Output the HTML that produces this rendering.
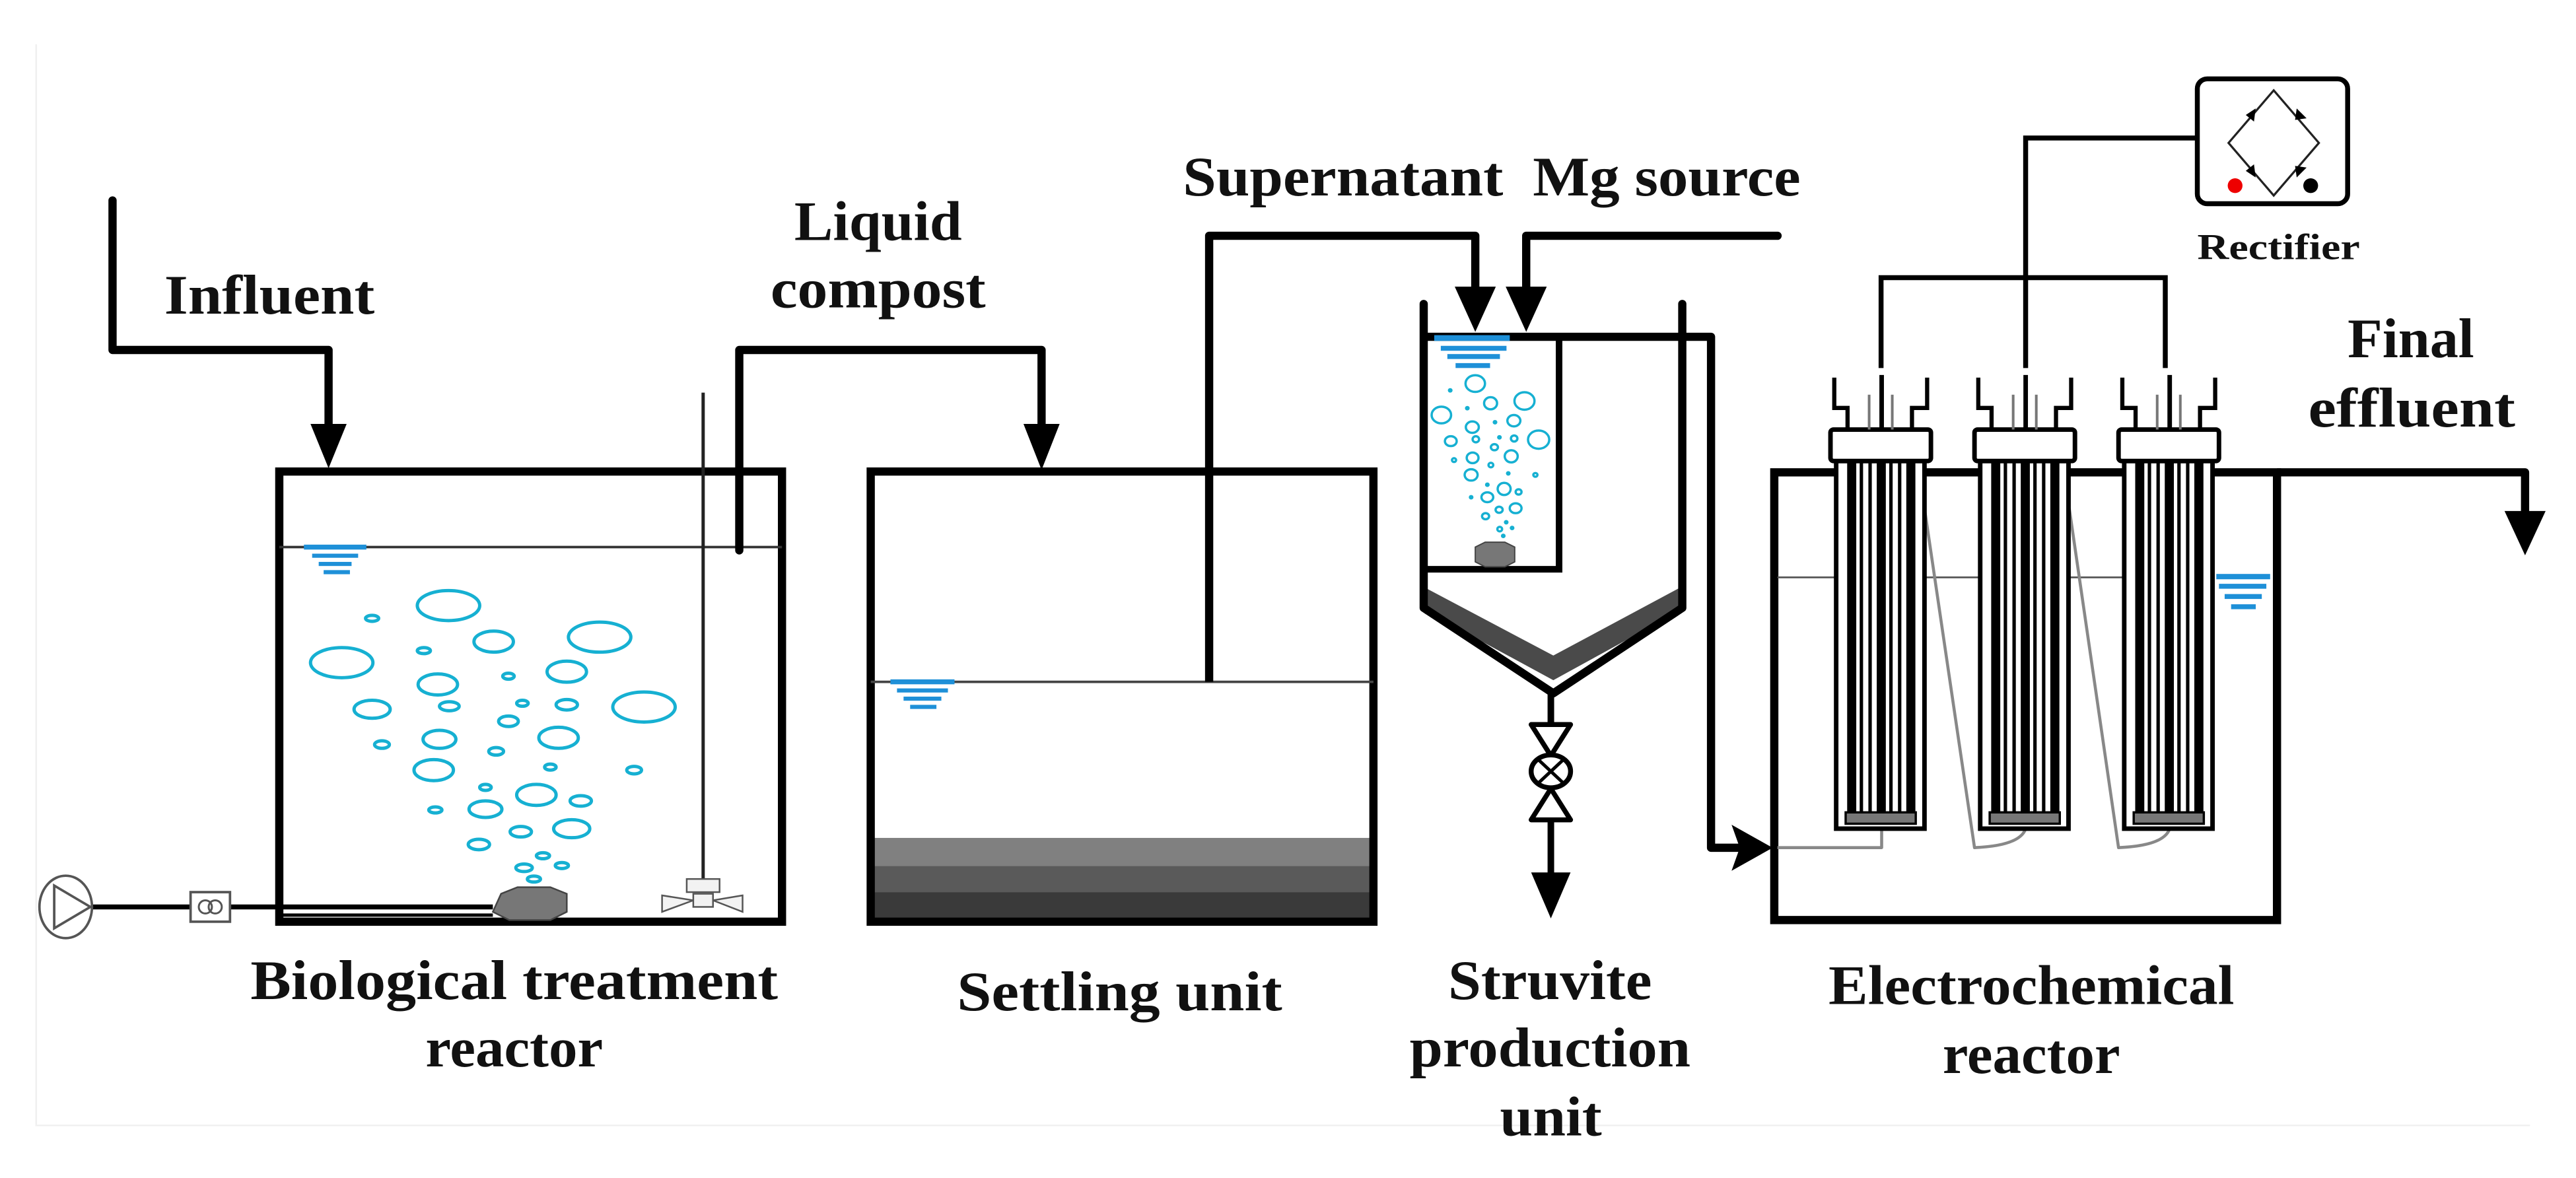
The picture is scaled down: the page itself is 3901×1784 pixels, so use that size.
<!DOCTYPE html>
<html><head><meta charset="utf-8"><style>html,body{margin:0;padding:0;background:#fff}svg{display:block}text{font-family:"Liberation Serif",serif;font-weight:bold;fill:#111}</style></head>
<body>
<svg width="3901" height="1784" viewBox="0 0 1568 717" preserveAspectRatio="none" xmlns="http://www.w3.org/2000/svg">
<rect width="1568" height="717" fill="#fff"/>
<polyline points="22,27 22,685 1540,685" fill="none" stroke="#f0f0f0" stroke-width="1"/>

<polyline points="68.5,122 68.5,213 200,213 200,262" fill="none" stroke="#000" stroke-width="5" stroke-linejoin="round" stroke-linecap="round"/>
<polygon points="189,258 211,258 200,285" fill="#000"/>
<text x="100" y="191" font-size="34" textLength="128" lengthAdjust="spacingAndGlyphs">Influent</text>

<rect x="170" y="287" width="306" height="274" fill="none" stroke="#000" stroke-width="5"/>
<line x1="170" y1="333" x2="476" y2="333" stroke="#333" stroke-width="1.5"/>
<g fill="#1e90d8">
<rect x="185" y="331.5" width="38" height="3"/><rect x="190" y="337" width="28" height="2.5"/><rect x="194" y="342" width="20" height="2.5"/><rect x="197" y="347" width="16" height="2.5"/>
</g>
<polyline points="450,335 450,213 634,213 634,262" fill="none" stroke="#000" stroke-width="5" stroke-linejoin="round" stroke-linecap="round"/>
<polygon points="623,258 645,258 634,286" fill="#000"/>
<text x="483.5" y="146" font-size="34" textLength="102" lengthAdjust="spacingAndGlyphs">Liquid</text>
<text x="469" y="187" font-size="34" textLength="131" lengthAdjust="spacingAndGlyphs">compost</text>
<line x1="428" y1="239" x2="428" y2="540" stroke="#222" stroke-width="2"/>
<g fill="#f2f2f2" stroke="#555" stroke-width="1">
<rect x="418" y="535" width="20" height="8"/>
<polygon points="403,545 422,548 403,555"/><polygon points="452,545 434,548 452,555"/>
<rect x="422" y="544" width="12" height="8"/>
</g>
<line x1="56" y1="552" x2="300" y2="552" stroke="#000" stroke-width="3"/>
<line x1="170" y1="557" x2="300" y2="557" stroke="#000" stroke-width="2"/>
<ellipse cx="40" cy="552" rx="16" ry="19" fill="#fff" stroke="#555" stroke-width="1.5"/>
<polygon points="33,539 33,565 55,552" fill="none" stroke="#555" stroke-width="1.5"/>
<rect x="116" y="543" width="24" height="18" fill="#fff" stroke="#555" stroke-width="1.5"/>
<circle cx="125" cy="552" r="4" fill="none" stroke="#555" stroke-width="1.2"/><circle cx="131" cy="552" r="4" fill="none" stroke="#555" stroke-width="1.2"/>
<polygon points="305,544 315,540 335,540 345,544 345,555 335,560 310,560 300,555" fill="#777" stroke="#444" stroke-width="1"/>
<g transform="scale(0.5,0.4573)" fill="none" stroke="#16b0d2" stroke-width="5">
<ellipse cx="546" cy="806" rx="38" ry="20" vector-effect="non-scaling-stroke"/><ellipse cx="453" cy="823" rx="8" ry="4" vector-effect="non-scaling-stroke"/><ellipse cx="601" cy="854" rx="24" ry="14" vector-effect="non-scaling-stroke"/><ellipse cx="730" cy="848" rx="38" ry="20" vector-effect="non-scaling-stroke"/><ellipse cx="416" cy="882" rx="38" ry="20" vector-effect="non-scaling-stroke"/><ellipse cx="516" cy="866" rx="8" ry="4" vector-effect="non-scaling-stroke"/><ellipse cx="690" cy="894" rx="24" ry="14" vector-effect="non-scaling-stroke"/><ellipse cx="533" cy="911" rx="24" ry="14" vector-effect="non-scaling-stroke"/><ellipse cx="619" cy="900" rx="7" ry="4" vector-effect="non-scaling-stroke"/><ellipse cx="453" cy="944" rx="22" ry="12" vector-effect="non-scaling-stroke"/><ellipse cx="547" cy="940" rx="12" ry="6" vector-effect="non-scaling-stroke"/><ellipse cx="636" cy="936" rx="7" ry="4" vector-effect="non-scaling-stroke"/><ellipse cx="690" cy="938" rx="13" ry="7" vector-effect="non-scaling-stroke"/><ellipse cx="784" cy="941" rx="38" ry="20" vector-effect="non-scaling-stroke"/><ellipse cx="619" cy="960" rx="12" ry="7" vector-effect="non-scaling-stroke"/><ellipse cx="535" cy="984" rx="20" ry="12" vector-effect="non-scaling-stroke"/><ellipse cx="680" cy="982" rx="24" ry="14" vector-effect="non-scaling-stroke"/><ellipse cx="465" cy="991" rx="9" ry="5" vector-effect="non-scaling-stroke"/><ellipse cx="604" cy="1000" rx="9" ry="5" vector-effect="non-scaling-stroke"/><ellipse cx="528" cy="1025" rx="24" ry="14" vector-effect="non-scaling-stroke"/><ellipse cx="670" cy="1021" rx="7" ry="4" vector-effect="non-scaling-stroke"/><ellipse cx="772" cy="1025" rx="9" ry="5" vector-effect="non-scaling-stroke"/><ellipse cx="591" cy="1048" rx="7" ry="4" vector-effect="non-scaling-stroke"/><ellipse cx="653" cy="1058" rx="24" ry="14" vector-effect="non-scaling-stroke"/><ellipse cx="707" cy="1066" rx="13" ry="7" vector-effect="non-scaling-stroke"/><ellipse cx="530" cy="1078" rx="8" ry="4" vector-effect="non-scaling-stroke"/><ellipse cx="591" cy="1077" rx="20" ry="11" vector-effect="non-scaling-stroke"/><ellipse cx="696" cy="1103" rx="22" ry="12" vector-effect="non-scaling-stroke"/><ellipse cx="634" cy="1107" rx="13" ry="7" vector-effect="non-scaling-stroke"/><ellipse cx="583" cy="1124" rx="13" ry="7" vector-effect="non-scaling-stroke"/><ellipse cx="661" cy="1139" rx="8" ry="4" vector-effect="non-scaling-stroke"/><ellipse cx="638" cy="1155" rx="10" ry="5" vector-effect="non-scaling-stroke"/><ellipse cx="684" cy="1152" rx="8" ry="4" vector-effect="non-scaling-stroke"/><ellipse cx="650" cy="1170" rx="8" ry="4" vector-effect="non-scaling-stroke"/>
</g>
<text x="152.5" y="608" font-size="34" textLength="321" lengthAdjust="spacingAndGlyphs">Biological  treatment</text>
<text x="259" y="649" font-size="34" textLength="108" lengthAdjust="spacingAndGlyphs">reactor</text>

<rect x="532" y="510" width="302" height="17" fill="#808080"/>
<rect x="532" y="527" width="302" height="16" fill="#5a5a5a"/>
<rect x="532" y="543" width="302" height="17" fill="#3a3a3a"/>
<rect x="530" y="287" width="306" height="274" fill="none" stroke="#000" stroke-width="5"/>
<line x1="530" y1="415" x2="836" y2="415" stroke="#444" stroke-width="1.5"/>
<g fill="#1e90d8">
<rect x="542" y="413.5" width="39" height="3"/><rect x="546" y="419" width="31" height="2.5"/><rect x="550" y="424" width="23" height="2.5"/><rect x="554" y="429" width="16" height="2.5"/>
</g>
<text x="582.5" y="615" font-size="34" textLength="198" lengthAdjust="spacingAndGlyphs">Settling unit</text>

<polyline points="736,415 736,143.5 898,143.5 898,180" fill="none" stroke="#000" stroke-width="5" stroke-linejoin="round"/>
<polygon points="885.5,174.5 910.5,174.5 898,202" fill="#000"/>
<polyline points="1082,143.5 929,143.5 929,180" fill="none" stroke="#000" stroke-width="5" stroke-linejoin="round" stroke-linecap="round"/>
<polygon points="916.5,174.5 941.5,174.5 929,202" fill="#000"/>
<text x="720" y="119" font-size="34" textLength="195" lengthAdjust="spacingAndGlyphs">Supernatant</text>
<text x="933" y="119" font-size="34" textLength="163" lengthAdjust="spacingAndGlyphs">Mg source</text>

<polygon points="868,372 945.5,414 1022,372 1022,358 945.5,399 868,358" fill="#4a4a4a"/>
<polyline points="866.6,185 866.6,370 945.5,422 1024,370 1024,185" fill="none" stroke="#000" stroke-width="5" stroke-linejoin="round" stroke-linecap="round"/>
<polyline points="866.6,205 1041.5,205 1041.5,516 1060,516" fill="none" stroke="#000" stroke-width="5" stroke-linejoin="round"/>
<polyline points="866.6,346.5 949,346.5 949,205" fill="none" stroke="#000" stroke-width="4"/>
<g fill="#1e90d8">
<rect x="873" y="204" width="46" height="3.5"/><rect x="877" y="210.5" width="40" height="3"/><rect x="881" y="215.5" width="32" height="3"/><rect x="886" y="221" width="21" height="3"/>
</g>
<polygon points="898,333 904,330 916,330 922,333 922,342 916,345 904,345 898,342" fill="#777" stroke="#444" stroke-width="0.8"/>
<g transform="translate(803.8,152.7) scale(0.1794,0.2307)" fill="none" stroke="#16b0d2" stroke-width="3.5">
<ellipse cx="525" cy="350" rx="33" ry="22" vector-effect="non-scaling-stroke"/><ellipse cx="577" cy="402" rx="22" ry="16" vector-effect="non-scaling-stroke"/><ellipse cx="692" cy="396" rx="34" ry="23" vector-effect="non-scaling-stroke"/><ellipse cx="410" cy="433" rx="33" ry="22" vector-effect="non-scaling-stroke"/><ellipse cx="515" cy="465" rx="22" ry="15" vector-effect="non-scaling-stroke"/><ellipse cx="656" cy="448" rx="22" ry="15" vector-effect="non-scaling-stroke"/><ellipse cx="740" cy="498" rx="36" ry="24" vector-effect="non-scaling-stroke"/><ellipse cx="442" cy="502" rx="20" ry="13" vector-effect="non-scaling-stroke"/><ellipse cx="527" cy="497" rx="11" ry="8" vector-effect="non-scaling-stroke"/><ellipse cx="657" cy="495" rx="11" ry="8" vector-effect="non-scaling-stroke"/><ellipse cx="590" cy="518" rx="12" ry="8" vector-effect="non-scaling-stroke"/><ellipse cx="516" cy="546" rx="20" ry="14" vector-effect="non-scaling-stroke"/><ellipse cx="647" cy="542" rx="22" ry="16" vector-effect="non-scaling-stroke"/><ellipse cx="453" cy="552" rx="7" ry="5" vector-effect="non-scaling-stroke"/><ellipse cx="578" cy="565" rx="8" ry="6" vector-effect="non-scaling-stroke"/><ellipse cx="729" cy="591" rx="7" ry="5" vector-effect="non-scaling-stroke"/><ellipse cx="511" cy="591" rx="22" ry="15" vector-effect="non-scaling-stroke"/><ellipse cx="623" cy="628" rx="22" ry="16" vector-effect="non-scaling-stroke"/><ellipse cx="672" cy="636" rx="10" ry="7" vector-effect="non-scaling-stroke"/><ellipse cx="566" cy="650" rx="20" ry="13" vector-effect="non-scaling-stroke"/><ellipse cx="606" cy="683" rx="12" ry="8" vector-effect="non-scaling-stroke"/><ellipse cx="662" cy="679" rx="20" ry="13" vector-effect="non-scaling-stroke"/><ellipse cx="560" cy="700" rx="12" ry="8" vector-effect="non-scaling-stroke"/><ellipse cx="608" cy="734" rx="8" ry="6" vector-effect="non-scaling-stroke"/>
<g fill="#16b0d2" stroke="none"><ellipse cx="440" cy="368" rx="8" ry="6"/><ellipse cx="498" cy="415" rx="8" ry="6"/><ellipse cx="592" cy="452" rx="8" ry="6"/><ellipse cx="607" cy="492" rx="8" ry="6"/><ellipse cx="637" cy="587" rx="8" ry="6"/><ellipse cx="566" cy="617" rx="8" ry="6"/><ellipse cx="511" cy="650" rx="8" ry="6"/><ellipse cx="630" cy="716" rx="8" ry="6"/><ellipse cx="650" cy="731" rx="8" ry="6"/><ellipse cx="620" cy="752" rx="8" ry="6"/></g>
</g>
<line x1="944" y1="420" x2="944" y2="535" stroke="#000" stroke-width="4"/>
<polygon points="932,441 956,441 944,460" fill="#fff" stroke="#000" stroke-width="3" stroke-linejoin="round"/>
<polygon points="932,499 956,499 944,480" fill="#fff" stroke="#000" stroke-width="3" stroke-linejoin="round"/>
<ellipse cx="944" cy="469.5" rx="12" ry="10" fill="#fff" stroke="#000" stroke-width="3"/>
<line x1="936" y1="462" x2="952" y2="477" stroke="#000" stroke-width="2"/><line x1="952" y1="462" x2="936" y2="477" stroke="#000" stroke-width="2"/>
<polygon points="932,531 956,531 944,559" fill="#000"/>
<text x="881.5" y="608" font-size="34" textLength="124" lengthAdjust="spacingAndGlyphs">Struvite</text>
<text x="858" y="649" font-size="34" textLength="171" lengthAdjust="spacingAndGlyphs">production</text>
<text x="913" y="691" font-size="34" textLength="62" lengthAdjust="spacingAndGlyphs">unit</text>

<polygon points="1054,502 1079,516 1054,530 1059,516" fill="#000"/>
<rect x="1080" y="287.5" width="306" height="272.5" fill="none" stroke="#000" stroke-width="5"/>
<polyline points="1386,287.5 1537,287.5 1537,315" fill="none" stroke="#000" stroke-width="5" stroke-linejoin="round"/>
<polygon points="1524.5,311 1549.5,311 1537,338" fill="#000"/>
<text x="1429" y="217.5" font-size="34" textLength="77" lengthAdjust="spacingAndGlyphs">Final</text>
<text x="1405" y="259.6" font-size="34" textLength="126" lengthAdjust="spacingAndGlyphs">effluent</text>

<g transform="translate(1045,201) scale(0.2307)">
<g stroke="#555" stroke-width="5" fill="none">
<line x1="160" y1="652" x2="315" y2="652"/><line x1="548" y1="652" x2="695" y2="652"/><line x1="930" y1="652" x2="1075" y2="652"/>
</g>
<g stroke="#888" stroke-width="8" fill="none" stroke-linejoin="round">
<polyline points="435,1315 435,1365 160,1365"/>
<path d="M548,470 L680,1365 Q800,1360 815,1315"/>
<path d="M930,470 L1060,1365 Q1180,1360 1195,1315"/>
</g>
<g fill="#1e90d8"><rect x="1318" y="643" width="142" height="14"/><rect x="1325" y="669" width="125" height="13"/><rect x="1340" y="696" width="98" height="13"/><rect x="1357" y="723" width="65" height="13"/></g>
<g id="el">
<rect x="315" y="345" width="233" height="970" fill="#fff" stroke="#000" stroke-width="12"/>
<g fill="#000">
<rect x="344" y="345" width="24" height="935"/><rect x="377" y="345" width="9" height="935"/><rect x="400" y="345" width="9" height="935"/>
<rect x="422" y="345" width="24" height="935"/><rect x="455" y="345" width="9" height="935"/><rect x="478" y="345" width="9" height="935"/>
<rect x="500" y="345" width="24" height="935"/>
</g>
<rect x="340" y="1272" width="185" height="30" fill="#777" stroke="#000" stroke-width="6"/>
<rect x="300" y="262" width="265" height="83" rx="8" fill="#fff" stroke="#000" stroke-width="12"/>
<polyline points="310,125 310,205 345,205 345,262" fill="none" stroke="#000" stroke-width="11"/>
<polyline points="555,125 555,205 515,205 515,262" fill="none" stroke="#000" stroke-width="11"/>
<line x1="435" y1="118" x2="435" y2="262" stroke="#000" stroke-width="12"/>
<line x1="402" y1="170" x2="402" y2="262" stroke="#777" stroke-width="7"/>
<line x1="463" y1="170" x2="463" y2="262" stroke="#777" stroke-width="7"/>
</g>
<use href="#el" x="380"/>
<use href="#el" x="760"/>
</g>
<polyline points="1337.5,84 1233,84 1233,224" fill="none" stroke="#000" stroke-width="3"/>
<polyline points="1145,224 1145,169 1318,169 1318,224" fill="none" stroke="#000" stroke-width="3"/>
<rect x="1337.5" y="48" width="91.5" height="76" rx="6" fill="#fff" stroke="#000" stroke-width="3"/>
<polygon points="1384,55 1411.5,87 1384,119 1356.5,87" fill="none" stroke="#222" stroke-width="1.3"/>
<g fill="#000">
<polygon points="1367,70 1373,66 1372,74"/><polygon points="1398,66 1404,72 1397,73"/>
<polygon points="1367,104 1373,108 1372,100"/><polygon points="1398,108 1404,102 1397,101"/>
</g>
<circle cx="1360.5" cy="113" r="4.5" fill="#e00"/>
<circle cx="1406.5" cy="113" r="4.5" fill="#000"/>
<text x="1337.5" y="157.7" font-size="22" textLength="99" lengthAdjust="spacingAndGlyphs">Rectifier</text>
<text x="1113" y="611" font-size="34" textLength="247" lengthAdjust="spacingAndGlyphs">Electrochemical</text>
<text x="1182.5" y="653" font-size="34" textLength="108" lengthAdjust="spacingAndGlyphs">reactor</text>
</svg>
</body></html>
